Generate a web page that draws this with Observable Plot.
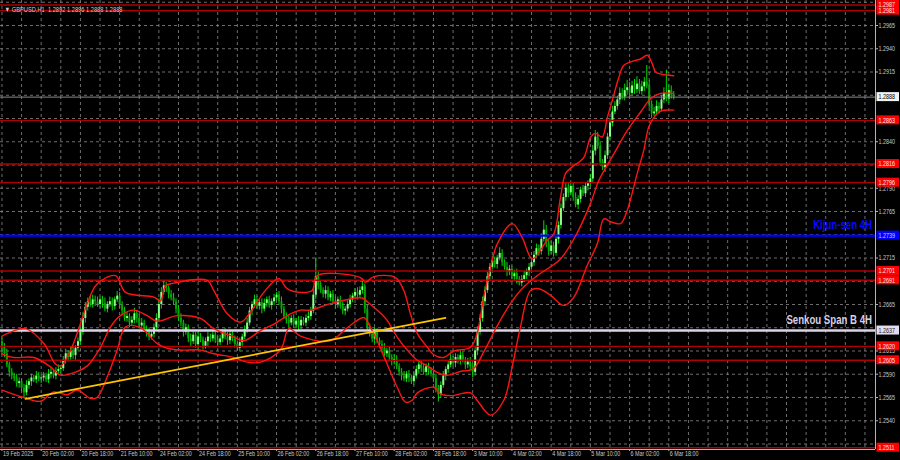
<!DOCTYPE html>
<html><head><meta charset="utf-8">
<script src="https://cdn.jsdelivr.net/npm/d3@7"></script>
<script src="https://cdn.jsdelivr.net/npm/@observablehq/plot@0.6"></script>
<style>
html,body{margin:0;padding:0;background:#000;}
</style></head><body>
<script>
// ---- data (prices in pips above 1.2500) ----
const BASE = 1.25, PIP = 0.0001;
const title = "\u25BC GBPUSD,H1  1.2892 1.2896 1.2888 1.2888";
const open0 = 125;
const closes = [
120,112,100,92,88,85,80,82,75,70,78,82,86,84,88,85,86,88,84,90,92,88,93,95,96,
105,112,108,115,110,118,125,135,150,162,168,165,170,168,165,170,166,160,165,168,163,170,174,165,158,
150,152,145,148,155,150,142,145,138,135,130,133,140,150,165,178,185,182,176,172,168,160,150,145,135,
140,128,125,132,122,130,127,120,125,130,128,132,127,124,128,135,130,126,133,128,122,118,124,130,138,
145,158,165,170,163,167,160,166,170,164,168,172,175,168,160,152,148,145,150,143,147,142,148,145,150,
152,158,175,195,185,180,176,180,172,176,168,165,170,163,158,160,165,170,174,178,175,180,184,160,140,
133,128,135,126,122,118,112,115,108,104,106,98,92,88,85,90,86,82,88,95,100,96,92,98,94,
90,85,75,68,78,88,95,100,106,102,108,104,110,105,100,103,98,92,115,135,150,168,180,195,205,
212,208,215,220,210,205,200,203,195,198,192,188,192,196,200,205,210,218,225,222,235,245,230,222,228,
220,235,250,268,280,290,285,292,280,272,278,288,284,292,295,300,330,345,335,318,312,325,345,360,372,
378,385,392,388,395,398,392,400,396,402,394,399,404,400,380,370,372,378,375,385,392,386,395,390,388];
const upWick = [
4,3,5,3,4,3,5,4,3,4,5,3,4,3,5,4,3,4,3,5,4,3,4,5,3,
4,5,3,4,5,3,4,5,6,5,4,6,5,4,5,3,4,6,3,5,4,3,5,4,3,
4,5,3,4,6,3,4,5,3,4,5,3,4,5,6,5,5,4,3,4,5,3,4,5,3,
4,3,5,4,3,5,4,3,4,5,3,4,3,5,4,3,4,5,3,4,3,4,5,3,4,
5,4,3,5,4,3,4,5,3,4,3,4,3,4,5,3,4,5,3,4,3,5,4,3,4,
5,4,6,20,5,4,3,5,4,3,4,5,3,4,5,3,4,5,3,4,5,4,8,3,5,
4,3,5,4,3,4,5,3,4,3,5,4,3,4,5,3,4,3,5,4,3,4,5,3,4,
3,4,5,3,4,5,3,4,5,3,4,3,5,4,3,4,5,4,5,6,4,5,4,5,4,
5,4,3,6,4,3,5,4,3,4,5,3,4,5,3,4,5,4,5,4,6,10,5,4,5,
4,5,4,5,4,6,5,4,3,5,4,3,5,4,3,5,6,7,5,4,3,5,4,5,6,
5,4,6,5,7,8,6,5,7,8,5,6,5,18,6,4,5,6,4,5,6,25,6,5,4];
const downWick = [
10,4,3,5,4,3,4,5,4,5,3,4,5,3,4,3,5,4,3,4,5,3,4,3,4,
3,4,5,3,4,5,3,4,3,5,4,3,4,5,3,4,5,3,4,3,5,4,3,4,5,
3,4,5,3,4,5,3,4,3,5,4,3,4,3,4,5,3,4,5,3,4,5,3,4,5,
3,4,5,3,4,5,3,4,3,5,4,3,4,5,3,4,3,5,4,3,4,3,4,5,3,
4,3,5,4,3,4,5,3,4,3,5,4,3,4,5,3,4,5,3,4,3,5,4,3,4,
3,4,3,5,4,3,4,5,3,4,3,5,4,3,4,5,3,4,3,4,5,3,4,5,4,
3,4,5,3,4,5,3,4,3,5,4,3,4,5,3,4,5,3,4,3,5,4,3,4,5,
3,4,5,8,4,3,5,4,3,4,5,3,4,3,5,4,3,6,4,5,3,4,5,3,4,
3,4,5,3,4,3,5,4,3,4,5,3,4,3,4,5,3,4,3,5,4,3,4,5,3,
4,3,5,4,3,4,5,3,4,3,5,4,3,4,5,3,4,5,3,4,3,5,4,3,4,
3,4,5,3,4,5,4,3,5,4,3,4,5,3,4,5,3,4,5,3,4,3,5,4,3];

// Bollinger-style bands (bar index, pips)
const upperBars = [0,9.6,17.1,21.8,23.9,27.3,30.7,34.8,38.8,46.3,50.4,61.9,64.7,66.7,70.1,83.7,86.4,91.9,97.3,101.4,106.8,112.9,116.3,121.8,126.5,128.6,146.2,148.3,151.7,160.5,163.9,166.6,169.4,173.5,176.1,180.2,184.3,191.1,193.8,196.5,199.3,202,208.1,212.2,216.3,222.4,225.1,227.8,229.9,232.6,237.3,240.1,242.1,244.8,246.9,248.9,251.6,253.6,257.7,260.5,263.2,265.2,266.6,268.6,274];
const upperVals = [131,139,123,101,99,112,134,166,187,196,178,173,169,185,188,191,180,155,146,157,178,193,182,178,180,196,194,189,195,194,180,155,134,119,111,108,115,119,134,173,205,230,252,237,214,234,241,280,306,313,323,345,349,345,366,384,409,422,427,429,433,424,415,413,411];
const middleBars = [0,4.8,13,19.8,23.9,30.7,34.8,40.2,44.3,48.3,53.8,59.2,63.3,71.5,81,86.4,94.6,98.6,105.5,110.9,117.7,121.8,125.9,134,146.9,149,153,157.1,161.2,165.3,169.4,173.5,177.5,181.6,187,192.3,196.5,202,207.4,212.9,218.3,227.8,234.6,240.1,243.4,249.6,255,260.5,264.5,268.6,274];
const middleVals = [112,108,108,98,89,93,99,119,141,153,159,153,147,153,150,139,130,126,137,144,155,159,159,166,172,168,159,148,130,116,105,99,92,89,93,96,114,142,166,184,196,214,242,274,298,327,352,372,386,392,392];
const lowerBars = [0,8.9,15.7,21.1,26.6,30.7,36.1,38.8,42.9,47,50.4,56.5,63.3,67.4,72.8,81,86.4,94.6,100,105.5,113.6,117,121.8,134,140.8,147.6,149.6,153,157.1,161.2,164.6,167.3,169.4,176.1,178.9,183,191.1,193.8,199.3,204.7,208.1,211.5,215.6,219,223.7,229.2,233.3,238.7,242.8,245.5,248.2,252.3,255,259.1,261.8,263.8,265.9,268.6,274];
const lowerVals = [73,65,61,71,68,73,64,65,87,116,141,140,123,118,116,116,112,108,103,103,116,139,131,126,140,151,144,126,101,76,60,62,70,76,69,67,70,62,46,62,98,141,180,182,175,164,173,207,230,257,254,252,266,306,331,356,366,373,374];
const trendBars = [9.6, 180.9];
const trendVals = [63.6, 150.7];

const redLevels = [1.2987, 1.2981, 1.2863, 1.2816, 1.2796, 1.2701, 1.2691, 1.2620, 1.2605, 1.2511];
const kijun = 1.2739, senkouB = 1.2637, lastPrice = 1.2888;
const kijunText = "Kijun-sen 4H", senkouText = "Senkou Span B 4H";
const priceTicks = [1.2965, 1.2940, 1.2915, 1.2840, 1.2790, 1.2765, 1.2715, 1.2665, 1.2615, 1.2590, 1.2565, 1.2540];
const gridPrices = [1.2515,1.2540,1.2565,1.2590,1.2615,1.2640,1.2665,1.2690,1.2715,1.2740,1.2765,1.2790,1.2815,1.2840,1.2865,1.2890,1.2915,1.2940,1.2965,1.2990];
const timeBars = [0,16,32,48,64,80,96,112,128,144,160,176,192,208,224,240,256,272];
const timeLabels = ["19 Feb 2025","20 Feb 02:00","20 Feb 18:00","21 Feb 10:00","24 Feb 02:00","24 Feb 18:00","25 Feb 10:00","26 Feb 02:00","26 Feb 18:00","27 Feb 10:00","28 Feb 02:00","28 Feb 18:00","3 Mar 10:00","4 Mar 02:00","4 Mar 18:00","5 Mar 10:00","6 Mar 02:00","6 Mar 18:00"];

// ---- layout ----
const W = 900, H = 460, ML = 0, MR = 25, MT = 0, MB = 11;
const X0 = -0.6, X1 = 356.3;
const Y0 = 1.2509086, Y1 = 1.2991882;
const pxPerBar = (W - ML - MR) / (X1 - X0);
const pxPerPrice = (H - MT - MB) / (Y1 - Y0);
const P = v => BASE + v * PIP;
const timeMap = new Map(timeBars.map((b, k) => [b, timeLabels[k]]));
const FONT = "'Liberation Sans', Arial, sans-serif";

const candles = closes.map((c, i) => {
  const o = i === 0 ? open0 : closes[i - 1];
  return {i, up: c >= o,
    lo: P(Math.min(o, c)), hi: P(Math.max(o, c)),
    l: P(Math.min(o, c) - downWick[i]), h: P(Math.max(o, c) + upWick[i])};
});
const band = (bs, vs) => bs.map((b, k) => ({b, p: P(vs[k])}));

const boxes = [
  ...redLevels.map(v => ({v, bg: "#ff0000", fg: "#ffe6e6"})),
  {v: kijun, bg: "#0000ff", fg: "#cfd0ff"},
  {v: senkouB, bg: "#e3dbf0", fg: "#202020"},
  {v: lastPrice, bg: "#f2f2f2", fg: "#000000"}
];
const boxHalf = 4.5 / pxPerPrice;
const bx1 = X1 + 1.5 / pxPerBar, bx2 = X1 + 24 / pxPerBar, btx = X1 + 3 / pxPerBar;
const tickEnd = X1 + 3 / pxPerBar;
const labelX = X1 - 3.5 / pxPerBar;
const fmt = d3.format(".4f");

const gridStyle = {stroke: "#8a8a8a", strokeDasharray: "3,3", strokeWidth: 0.8};
const small = {fontSize: 7, fontFamily: FONT};

const svg = Plot.plot({
  width: W, height: H, marginLeft: ML, marginRight: MR, marginTop: MT, marginBottom: MB,
  style: {background: "#000", color: "#c8c8c8", fontFamily: FONT},
  x: {domain: [X0, X1], label: null, axis: null},
  y: {domain: [Y0, Y1], label: null, axis: null},
  color: {type: "identity"},
  marks: [
    Plot.ruleY(gridPrices, gridStyle),
    Plot.ruleX(d3.range(0, X1, 8), gridStyle),
    Plot.ruleX(candles, {x: "i", y1: "l", y2: "h", stroke: "#00d800", strokeWidth: 1}),
    Plot.ruleX(candles, {x: "i", y1: "lo", y2: "hi", stroke: d => d.up ? "#8aff8a" : "#00a800", strokeWidth: 2}),
    Plot.ruleY(redLevels, {stroke: "#b00000", strokeWidth: 1.4}),
    Plot.ruleY([lastPrice], {stroke: "#8a8a8a", strokeWidth: 1}),
    Plot.ruleY([kijun], {stroke: "#0000ff", strokeWidth: 2.2}),
    Plot.ruleY([senkouB], {stroke: "#ddd2ea", strokeWidth: 2.6}),
    Plot.line(band(upperBars, upperVals), {x: "b", y: "p", stroke: "#ff1414", strokeWidth: 1.4, curve: "catmull-rom"}),
    Plot.line(band(middleBars, middleVals), {x: "b", y: "p", stroke: "#ff1414", strokeWidth: 1.4, curve: "catmull-rom"}),
    Plot.line(band(lowerBars, lowerVals), {x: "b", y: "p", stroke: "#ff1414", strokeWidth: 1.4, curve: "catmull-rom"}),
    Plot.line(band(trendBars, trendVals), {x: "b", y: "p", stroke: "#ffc400", strokeWidth: 1.7}),
    Plot.ruleX([X1], {stroke: "#b4b4b4"}),
    Plot.ruleY([Y0], {stroke: "#b4b4b4"}),
    // price axis (right)
    Plot.ruleY(priceTicks, {x1: () => X1, x2: () => tickEnd, stroke: "#b4b4b4"}),
    Plot.text(priceTicks, {x: () => btx, y: d => d, text: d => fmt(d), textAnchor: "start", fill: "#c8c8c8", ...small}),
    // time axis (bottom)
    Plot.ruleX(timeBars, {x: d => d, y1: () => Y0, y2: () => Y0 - 2 / pxPerPrice, stroke: "#b4b4b4"}),
    Plot.text(timeBars, {x: d => d, y: () => Y0, text: d => timeMap.get(d), textAnchor: "start", dx: 1, dy: 4.5, fill: "#c8c8c8", ...small}),
    // level labels
    Plot.rect(boxes, {x1: () => bx1, x2: () => bx2, y1: d => d.v - boxHalf, y2: d => d.v + boxHalf, fill: "bg"}),
    Plot.text(boxes, {x: () => btx, y: "v", text: d => fmt(d.v), fill: "fg", textAnchor: "start", ...small}),
    Plot.text([kijun], {x: () => labelX, y: d => d, text: () => kijunText, textAnchor: "end", fontSize: 12.5, fontWeight: "bold", fontFamily: FONT, fill: "#0a0aff", dy: -11}),
    Plot.text([senkouB], {x: () => labelX, y: d => d, text: () => senkouText, textAnchor: "end", fontSize: 12.5, fontWeight: "bold", fontFamily: FONT, fill: "#d8d0e8", dy: -11}),
    Plot.text([title], {frameAnchor: "top-left", text: d => d, dx: 4, dy: 6.5, textAnchor: "start", fontSize: 7.5, fontFamily: FONT, fill: "#d0d0d0"})
  ]
});
document.body.append(svg);

// horizontally condense the MT4-style texts (glyphs compressed along the baseline)
const SQ = 0.77, TITLE_WIDTH = 118;
svg.querySelectorAll("text").forEach(t => {
  const len = t.getComputedTextLength();
  if (len > 0) {
    const target = t.textContent === title ? TITLE_WIDTH : len * SQ;
    t.setAttribute("textLength", target.toFixed(2));
    t.setAttribute("lengthAdjust", "spacingAndGlyphs");
  }
});
</script>
</body></html>
